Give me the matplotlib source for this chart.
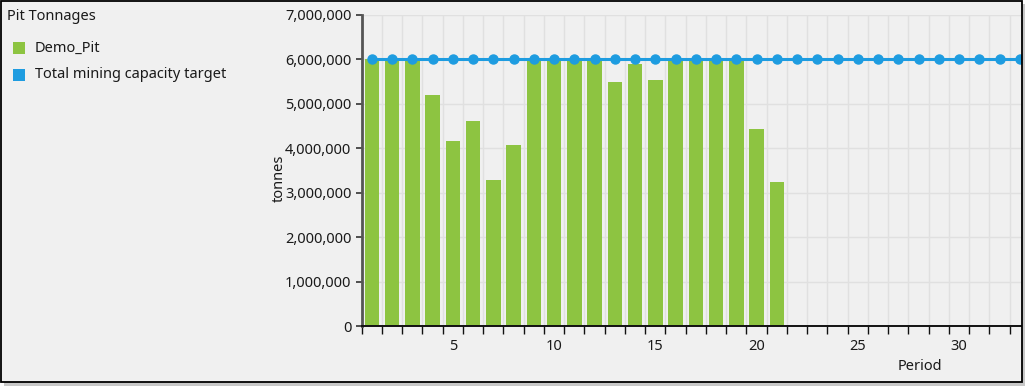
import matplotlib
matplotlib.use("Agg")
import matplotlib.pyplot as plt
from matplotlib.ticker import FuncFormatter, FixedLocator
from matplotlib.patches import Rectangle

# ---- data ----
periods = list(range(1, 22))
demo_pit = [6.00e6, 6.00e6, 6.00e6, 5.21e6, 4.17e6, 4.62e6, 3.29e6, 4.08e6,
            6.00e6, 6.00e6, 6.00e6, 6.00e6, 5.50e6, 5.89e6, 5.53e6, 6.00e6,
            6.00e6, 6.00e6, 6.00e6, 4.44e6, 3.25e6]
target_periods = list(range(1, 35))
target = [6.0e6] * len(target_periods)
x_tick_labels = [5, 10, 15, 20, 25, 30]
legend_title = "Pit Tonnages"
series_names = ["Demo_Pit", "Total mining capacity target"]

GREEN = "#8dc441"
BLUE = "#1e9ce0"
BG = "#f0f0f0"
TXT = "#1a1a1a"

plt.rcParams['font.family'] = ['Noto Sans', 'DejaVu Sans']

W, H = 1028, 388
fig = plt.figure(figsize=(W / 100, H / 100), dpi=100)
fig.patch.set_facecolor("white")


def fx(x):
    return x / W


def fy(y):
    return 1 - y / H


# outer panel with shadow
fig.add_artist(Rectangle((fx(4), fy(386)), fx(1021), 382 / H, transform=fig.transFigure,
                         facecolor="#c8c8c8", edgecolor="none", zorder=-2))
fig.add_artist(Rectangle((fx(0.5), fy(381.5)), fx(1021), 381 / H, transform=fig.transFigure,
                         facecolor=BG, edgecolor="none", zorder=-1))

ax_left, ax_right, ax_top, ax_bottom = 361.7, 1021.0, 15.0, 326.0
ax = fig.add_axes([fx(ax_left), fy(ax_bottom), fx(ax_right - ax_left), (ax_bottom - ax_top) / H])
ax.set_zorder(1)
ax.set_facecolor(BG)

ax.bar(periods, demo_pit, width=0.72, color=GREEN, zorder=2)
ax.plot(target_periods, target, color=BLUE, lw=2.2, marker="o", ms=6.5, zorder=3, clip_on=True)

ax.set_xlim(0.5, 0.5 + (ax_right - ax_left) / 20.25)
ax.set_ylim(0, 7e6)

ax.yaxis.set_major_locator(FixedLocator([i * 1e6 for i in range(8)]))
ax.yaxis.set_major_formatter(FuncFormatter(lambda v, p: f"{v:,.0f}"))
ax.xaxis.set_major_locator(FixedLocator(x_tick_labels))
ax.xaxis.set_minor_locator(FixedLocator([i + 0.5 for i in range(0, 40)]))
ax.tick_params(axis="x", which="major", length=0, pad=9, labelsize=10.5, labelcolor=TXT)
ax.tick_params(axis="x", which="minor", length=5.5, width=1.0, color="#111111", direction="out")
ax.tick_params(axis="y", which="major", length=4.5, width=1.2, color="#333333", pad=3,
               labelsize=10.5, labelcolor=TXT)

ax.grid(True, which="minor", axis="x", color="#e0e0e0", lw=1.0, zorder=0)
ax.grid(True, which="major", axis="y", color="#e0e0e0", lw=1.0, zorder=0)
ax.grid(False, which="major", axis="x")
ax.set_axisbelow(True)

for s in ["top", "right"]:
    ax.spines[s].set_visible(False)
ax.spines["left"].set_color("#555555")
ax.spines["left"].set_linewidth(2.0)
ax.spines["bottom"].set_color("#111111")
ax.spines["bottom"].set_linewidth(1.4)

fig.text(fx(279), fy(178), "tonnes", rotation=90, ha="center", va="center",
         fontsize=10.5, color=TXT)
fig.text(fx(920), fy(366), "Period", ha="center", va="center", fontsize=10.5, color=TXT)

# legend
fig.text(fx(7), fy(16), legend_title, ha="left", va="center", fontsize=10.5, color=TXT)
for i, (name, col) in enumerate(zip(series_names, [GREEN, BLUE])):
    yc = 48 + i * 27
    fig.add_artist(Rectangle((fx(13), fy(yc + 6)), fx(12), 12 / H, transform=fig.transFigure,
                             facecolor=col, edgecolor="none", zorder=3))
    fig.text(fx(35), fy(yc), name, ha="left", va="center", fontsize=10.5, color=TXT)

# border on top
fig.add_artist(Rectangle((fx(0.75), fy(381.5)), fx(1020.75), 380.75 / H, transform=fig.transFigure,
                         facecolor="none", edgecolor="#000000", lw=1.3, zorder=10))

fig.savefig("out.png", dpi=100, facecolor=fig.get_facecolor())
